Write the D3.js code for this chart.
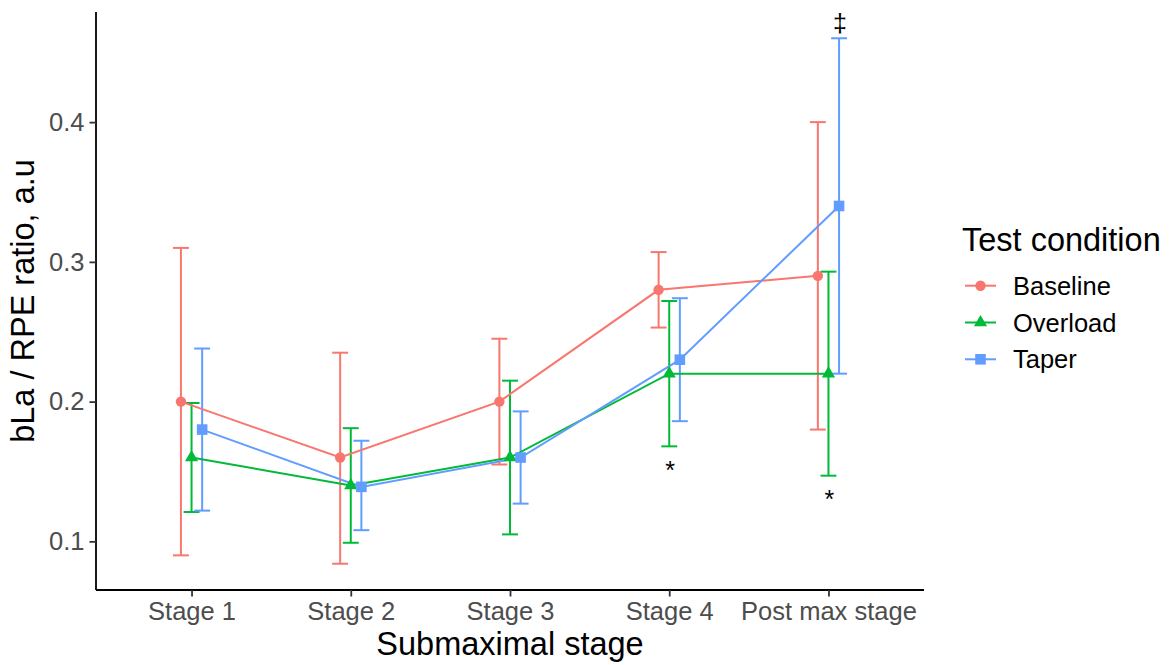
<!DOCTYPE html>
<html>
<head>
<meta charset="utf-8">
<script src="https://cdn.jsdelivr.net/npm/d3@7"></script>
<style>
  body { margin: 0; background: #ffffff; }
  text { font-family: "Liberation Sans", Arial, sans-serif; }
</style>
</head>
<body>
<div id="chart"></div>
<script>
// categories and series
const stages = ["Stage 1", "Stage 2", "Stage 3", "Stage 4", "Post max stage"];
const conditions = ["Baseline", "Overload", "Taper"];
const colors = ["#F8766D", "#00BA38", "#619CFF"];

// means and error bar ends
const baselineMean  = [0.20, 0.16, 0.20, 0.28, 0.29];
const baselineUpper = [0.31, 0.235, 0.245, 0.307, 0.40];
const baselineLower = [0.09, 0.084, 0.155, 0.253, 0.18];

const overloadMean  = [0.16, 0.14, 0.16, 0.22, 0.22];
const overloadUpper = [0.199, 0.181, 0.215, 0.272, 0.293];
const overloadLower = [0.121, 0.099, 0.105, 0.168, 0.147];

const taperMean  = [0.18, 0.139, 0.16, 0.23, 0.34];
const taperUpper = [0.238, 0.172, 0.193, 0.274, 0.46];
const taperLower = [0.122, 0.108, 0.127, 0.186, 0.22];

const yTicks = [0.1, 0.2, 0.3, 0.4];

// significance marks: label, stage, condition, value
const markLabels = ["*", "*", "\u2021"];
const markStages = ["Stage 4", "Post max stage", "Post max stage"];
const markConds  = ["Overload", "Overload", "Taper"];
const markValues = [0.1545, 0.1336, 0.474];

const W = 1169, H = 665;
let margin = {top: 12, right: 245, bottom: 75, left: 96};
let width = W - margin.left - margin.right,
    height = H - margin.top - margin.bottom;

const series = [
    {name: "Baseline", mean: baselineMean, hi: baselineUpper, lo: baselineLower, shape: d3.symbolCircle, size: 85},
    {name: "Overload", mean: overloadMean, hi: overloadUpper, lo: overloadLower, shape: d3.symbolTriangle, size: 75},
    {name: "Taper", mean: taperMean, hi: taperUpper, lo: taperLower, shape: d3.symbolSquare, size: 112}
];

let svg = d3.select("#chart").append("svg")
    .attr("width", W)
    .attr("height", H);
svg.append("rect").attr("width", W).attr("height", H).attr("fill", "#ffffff");

let g = svg.append("g").attr("transform", "translate(" + margin.left + "," + margin.top + ")");

let x = d3.scalePoint().domain(stages).range([0, width]).padding(0.6);
let step = x.step();

// y domain with ggplot's 5% expansion
let allVals = [].concat(baselineLower, baselineUpper, overloadLower, overloadUpper, taperLower, taperUpper);
let ymin = d3.min(allVals), ymax = d3.max(allVals);
let pad = (ymax - ymin) * 0.05;
let y = d3.scaleLinear().domain([ymin - pad, ymax + pad]).range([height, 0]);

// dodge offset per condition
let dodge = d3.scalePoint().domain(conditions).range([-step * 0.2 / 3, step * 0.2 / 3]);
let capW = step * 0.1;
let LW = 2;

function px(stage, cond) { return x(stage) + dodge(cond); }

// error bars
series.forEach(function (s, si) {
    let eg = g.append("g").attr("stroke", colors[si]).attr("stroke-width", LW).attr("fill", "none");
    stages.forEach(function (st, i) {
        let cx = px(st, s.name);
        eg.append("line").attr("x1", cx).attr("x2", cx).attr("y1", y(s.lo[i])).attr("y2", y(s.hi[i]));
        eg.append("line").attr("x1", cx - capW / 2).attr("x2", cx + capW / 2).attr("y1", y(s.hi[i])).attr("y2", y(s.hi[i]));
        eg.append("line").attr("x1", cx - capW / 2).attr("x2", cx + capW / 2).attr("y1", y(s.lo[i])).attr("y2", y(s.lo[i]));
    });
});

// lines
let line = d3.line();
series.forEach(function (s, si) {
    let pts = stages.map(function (st, i) { return [px(st, s.name), y(s.mean[i])]; });
    g.append("path")
        .attr("d", line(pts))
        .attr("fill", "none")
        .attr("stroke", colors[si])
        .attr("stroke-width", LW);
});

// points
series.forEach(function (s, si) {
    let sym = d3.symbol().type(s.shape).size(s.size);
    g.selectAll(".pt" + si)
        .data(stages)
        .enter().append("path")
        .attr("d", sym)
        .attr("fill", colors[si])
        .attr("transform", function (st, i) {
            return "translate(" + px(st, s.name) + "," + y(s.mean[i]) + ")";
        });
});

// significance marks
markLabels.forEach(function (lab, i) {
    g.append("text")
        .attr("x", px(markStages[i], markConds[i]) + 1)
        .attr("y", y(markValues[i]))
        .attr("dy", "0.55em")
        .attr("text-anchor", "middle")
        .attr("font-size", 25)
        .attr("fill", "#000")
        .text(lab);
});

// axes
let xAxis = d3.axisBottom(x).tickSize(6.5).tickPadding(5);
let xAxisEL = g.append("g").attr("transform", "translate(0," + height + ")").call(xAxis);
xAxisEL.select(".domain").attr("stroke", "#000").attr("stroke-width", 1.8).attr("d", "M0,0H" + width);
xAxisEL.selectAll(".tick line").attr("stroke", "#333333").attr("stroke-width", 1.8);
xAxisEL.selectAll(".tick text").attr("fill", "#4D4D4D").attr("font-size", 25.5)
    .attr("font-family", "Liberation Sans, Arial, sans-serif");

let yAxis = d3.axisLeft(y).tickValues(yTicks).tickFormat(d3.format(".1f")).tickSize(6.5).tickPadding(5);
let yAxisEL = g.append("g").call(yAxis);
yAxisEL.select(".domain").attr("stroke", "#000").attr("stroke-width", 1.8).attr("d", "M0," + height + "V0");
yAxisEL.selectAll(".tick line").attr("stroke", "#333333").attr("stroke-width", 1.8);
yAxisEL.selectAll(".tick text").attr("fill", "#4D4D4D").attr("font-size", 25.5)
    .attr("font-family", "Liberation Sans, Arial, sans-serif");

// axis titles
svg.append("text")
    .attr("x", margin.left + width / 2)
    .attr("y", 655)
    .attr("text-anchor", "middle")
    .attr("font-size", 32.5)
    .attr("fill", "#000")
    .text("Submaximal stage");

svg.append("text")
    .attr("transform", "translate(34," + (margin.top + height / 2) + ") rotate(-90)")
    .attr("text-anchor", "middle")
    .attr("font-size", 32.5)
    .attr("fill", "#000")
    .text("bLa / RPE ratio, a.u");

// legend
let legend = svg.append("g").attr("transform", "translate(962,0)");
legend.append("text")
    .attr("x", 0).attr("y", 251)
    .attr("font-size", 32.5)
    .attr("fill", "#000")
    .text("Test condition");

series.forEach(function (s, si) {
    let cy = 285.7 + si * 36.8;
    let item = legend.append("g").attr("transform", "translate(0," + cy + ")");
    item.append("line").attr("x1", 3).attr("x2", 34).attr("y1", 0).attr("y2", 0)
        .attr("stroke", colors[si]).attr("stroke-width", LW);
    item.append("path").attr("d", d3.symbol().type(s.shape).size(s.size)).attr("fill", colors[si])
        .attr("transform", "translate(18.5,0)");
    item.append("text").attr("x", 51).attr("y", 0).attr("dy", "0.36em")
        .attr("font-size", 25.5).attr("fill", "#000").text(s.name);
});
</script>
</body>
</html>
